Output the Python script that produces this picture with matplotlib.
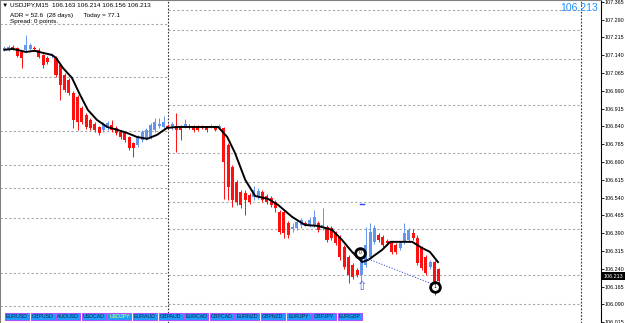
import numpy as np
import matplotlib.pyplot as plt
from matplotlib.patches import Rectangle

plt.rcParams['font.family'] = ['Liberation Sans', 'DejaVu Sans']

# USDJPY M15 candles (bar index = position on chart)
opens = [107.163, 107.163, 107.175, 107.171, 107.154, 107.163, 107.167, 107.171, 107.163, 107.142,
         107.129, 107.137, 107.129, 107.100, 107.057, 107.036, 106.982, 106.965, 106.918, 106.889,
         106.868, 106.851, 106.838, 106.826, 106.834, 106.847, 106.834, 106.817, 106.813, 106.796,
         106.771, 106.762, 106.784, 106.792, 106.796, 106.826, 106.842, 106.838, 106.842, 106.834,
         106.842, 106.842, 106.838, 106.842, 106.838, 106.842, 106.838, 106.838, 106.838, 106.838,
         106.834, 106.834, 106.762, 106.670, 106.606, 106.564, 106.560, 106.552, 106.543, 106.547,
         106.564, 106.547, 106.539, 106.522, 106.480, 106.480, 106.434, 106.408, 106.413, 106.425,
         106.434, 106.425, 106.425, 106.434, 106.413, 106.417, 106.413, 106.392, 106.375, 106.333,
         106.290, 106.257, 106.236, 106.215, 106.257, 106.290, 106.354, 106.383, 106.375, 106.358,
         106.349, 106.341, 106.328, 106.354, 106.362, 106.392, 106.371, 106.328, 106.290, 106.248,
         106.269, 106.240]
highs = [107.180, 107.184, 107.184, 107.175, 107.159, 107.226, 107.192, 107.180, 107.171, 107.146,
         107.137, 107.150, 107.137, 107.104, 107.066, 107.045, 106.990, 106.973, 106.927, 106.897,
         106.876, 106.859, 106.842, 106.859, 106.864, 106.868, 106.842, 106.826, 106.817, 106.800,
         106.775, 106.805, 106.826, 106.834, 106.855, 106.876, 106.876, 106.885, 106.851, 106.859,
         106.897, 106.847, 106.872, 106.851, 106.847, 106.847, 106.847, 106.842, 106.851, 106.842,
         106.851, 106.838, 106.771, 106.678, 106.615, 106.573, 106.573, 106.560, 106.590, 106.581,
         106.573, 106.556, 106.547, 106.531, 106.489, 106.489, 106.442, 106.434, 106.446, 106.455,
         106.442, 106.459, 106.489, 106.442, 106.497, 106.425, 106.421, 106.400, 106.383, 106.341,
         106.299, 106.265, 106.244, 106.299, 106.417, 106.434, 106.425, 106.392, 106.383, 106.366,
         106.358, 106.349, 106.358, 106.434, 106.413, 106.408, 106.383, 106.337, 106.299, 106.278,
         106.278, 106.244]
lows = [107.158, 107.159, 107.163, 107.133, 107.087, 107.159, 107.163, 107.159, 107.129, 107.087,
        107.104, 107.129, 107.050, 106.952, 106.986, 106.973, 106.834, 106.826, 106.851, 106.830,
        106.826, 106.817, 106.805, 106.817, 106.826, 106.817, 106.805, 106.788, 106.775, 106.741,
        106.712, 106.754, 106.775, 106.784, 106.788, 106.817, 106.834, 106.830, 106.830, 106.826,
        106.733, 106.784, 106.834, 106.830, 106.817, 106.821, 106.830, 106.817, 106.834, 106.821,
        106.830, 106.535, 106.531, 106.501, 106.510, 106.497, 106.467, 106.514, 106.531, 106.535,
        106.522, 106.514, 106.501, 106.480, 106.387, 106.371, 106.371, 106.396, 106.404, 106.413,
        106.421, 106.417, 106.417, 106.396, 106.404, 106.354, 106.362, 106.341, 106.278, 106.240,
        106.181, 106.198, 106.206, 106.181, 106.248, 106.282, 106.345, 106.354, 106.333, 106.341,
        106.303, 106.303, 106.320, 106.345, 106.354, 106.362, 106.257, 106.236, 106.215, 106.240,
        106.130, 106.181]
closes = [107.169, 107.175, 107.169, 107.137, 107.129, 107.184, 107.184, 107.167, 107.133, 107.100,
          107.112, 107.142, 107.057, 107.015, 106.994, 106.982, 106.868, 106.859, 106.859, 106.838,
          106.834, 106.826, 106.813, 106.851, 106.855, 106.826, 106.813, 106.796, 106.784, 106.750,
          106.750, 106.796, 106.817, 106.826, 106.847, 106.859, 106.851, 106.859, 106.838, 106.851,
          106.826, 106.826, 106.851, 106.838, 106.826, 106.826, 106.834, 106.826, 106.842, 106.826,
          106.842, 106.691, 106.585, 106.531, 106.522, 106.510, 106.531, 106.522, 106.573, 106.569,
          106.531, 106.522, 106.510, 106.497, 106.396, 106.392, 106.383, 106.417, 106.438, 106.446,
          106.429, 106.446, 106.459, 106.404, 106.425, 106.362, 106.371, 106.349, 106.290, 106.248,
          106.215, 106.206, 106.215, 106.286, 106.341, 106.396, 106.413, 106.362, 106.341, 106.349,
          106.312, 106.312, 106.349, 106.392, 106.404, 106.371, 106.265, 106.244, 106.223, 106.269,
          106.181, 106.190]

# moving average line (bar index, price)
ma_idx = [0, 2, 5, 7, 9, 11, 12, 13.6, 15.7, 17.6, 19.4, 21.5, 23.9, 26.2, 28.5, 30.8, 33.2, 35.5,
          37.8, 40.1, 45.5, 49.7, 51.8, 53.6, 56, 58.3, 61.3, 63.6, 66.9, 69.9, 72.9, 76.2, 78.5,
          80.8, 83.2, 84.6, 87.8, 89.7, 94.8, 97.1, 98.9, 100.8]
ma_val = [107.163, 107.167, 107.154, 107.159, 107.150, 107.142, 107.129, 107.087, 107.045, 106.973,
          106.910, 106.868, 106.838, 106.826, 106.813, 106.796, 106.788, 106.805, 106.834, 106.838,
          106.838, 106.838, 106.796, 106.729, 106.615, 106.547, 106.535, 106.510, 106.459, 106.425,
          106.421, 106.404, 106.362, 106.312, 106.269, 106.278, 106.320, 106.354, 106.354, 106.328,
          106.312, 106.269]

grid_left = [107.272, 107.049, 106.821, 106.678, 106.581, 106.455, 106.223, 106.084]
grid_mid = [107.331, 107.247, 107.125, 106.931, 106.729, 106.606, 106.522, 106.408, 106.215, 106.092]
day_breaks = [38, 134]

tick_prices = [106.015, 106.090, 106.165, 106.240, 106.315, 106.390, 106.465, 106.540, 106.615,
               106.690, 106.765, 106.840, 106.915, 106.990, 107.065, 107.140, 107.215, 107.290, 107.365]
last_price = 106.213

pairs = ['EURUSD', 'GBPUSD', 'AUDUSD', 'USDCAD', 'USDJPY', 'EURAUD', 'GBPAUD', 'EURCAD',
         'GBPCAD', 'EURNZD', 'GBPNZD', 'EURJPY', 'GBPJPY', 'EURGBP']

W, H = 625, 323
fig = plt.figure(figsize=(W / 100, H / 100), dpi=100)
ax = fig.add_axes([0, 0, 601 / W, 1])
ax.set_xlim(-1.02, 138.7)
ax.set_ylim(106.012, 107.373)

x = np.arange(len(opens))
o = np.array(opens); c = np.array(closes)
up = c >= o
cols = np.where(up, '#6495ed', '#ff1010')
ax.vlines(x, lows, highs, colors=cols, lw=0.7, zorder=3)
bottom = np.minimum(o, c)
height = np.maximum(np.abs(c - o), 0.002)
ax.bar(x, height, bottom=bottom, width=0.7, color=cols, zorder=4)

ax.plot(ma_idx, ma_val, color='black', lw=1.4, zorder=5)

# grid segments and day separators
ax.hlines(grid_left, -1.02, day_breaks[0], colors='#a8a8a8', linestyles=(0, (2, 2)), lw=0.8, zorder=1)
ax.hlines(grid_mid, day_breaks[0], day_breaks[1], colors='#a8a8a8', linestyles=(0, (2, 2)), lw=0.8, zorder=1)
for d in day_breaks:
    ax.axvline(d, color='#303030', ls=(0, (1.5, 1.5)), lw=0.8, zorder=1)

# pattern markers
ax.plot([83.4, 99.4], [106.290, 106.177], color='#4a5ae8', ls=(0, (1, 1.5)), lw=0.8, zorder=6)
ax.plot([82.6, 83.6], [106.514, 106.514], color='#2040ff', lw=1.0, zorder=6)
ax.text(83.2, 106.166, '\u21e7', color='#4169e1', fontsize=9, ha='center', va='center',
        family='DejaVu Sans', zorder=6)
for xi, yi, lab in [(82.7, 106.307, '0'), (100.1, 106.164, '1')]:
    ax.plot(xi, yi, 'o', ms=7, mfc='white', mec='black', mew=2, zorder=7)
    ax.text(xi, yi, lab, fontsize=3.5, ha='center', va='center', zorder=8)

ax.yaxis.tick_right()
ax.set_yticks(tick_prices)
ax.set_yticklabels(['%.3f' % t for t in tick_prices])
ax.tick_params(axis='y', length=2, width=0.6, pad=0.8, labelsize=3.9, colors='black')
ax.set_xticks([])
ax.spines['bottom'].set_visible(False)
ax.spines['top'].set_color('#808080')
ax.spines['left'].set_color('#808080')
ax.spines['right'].set_color('black')
ax.spines['left'].set_linewidth(1.5)

def fx(px):
    return px / W

def fy(py):
    return 1 - py / H

# header texts
fig.text(fx(2), fy(5), '\u25bc USDJPY,M15  106.163 106.214 106.156 106.213', fontsize=4.6, va='center')
fig.text(fx(10), fy(15), 'ADR = 52.6  (28 days)      Today = 77.1', fontsize=4.6, va='center')
fig.text(fx(10), fy(22), 'Spread: 0 points.', fontsize=4.6, va='center')
fig.text(fx(598), fy(8), '%.3f' % last_price, fontsize=7.5, color='#1e90ff', ha='right', va='center')

# current price box on the price scale
fig.add_artist(Rectangle((fx(601), fy(280)), 24 / W, 8 / H, transform=fig.transFigure,
                         facecolor='black', edgecolor='none'))
fig.text(fx(603.5), fy(276), '%.3f' % last_price, fontsize=3.9, color='white', va='center')

# symbol buttons
for k, p in enumerate(pairs):
    bx = 5 + k * 25.6
    fig.add_artist(Rectangle((fx(bx), fy(320)), 24 / W, 7 / H, transform=fig.transFigure,
                             facecolor='#1e9fff', edgecolor='#b050ff', lw=0.8))
    fig.text(fx(bx + 12), fy(316.5), p, fontsize=3.8, ha='center', va='center',
             color='#ffff40' if p == 'USDJPY' else '#102040')

fig.savefig('out.png', dpi=100)
